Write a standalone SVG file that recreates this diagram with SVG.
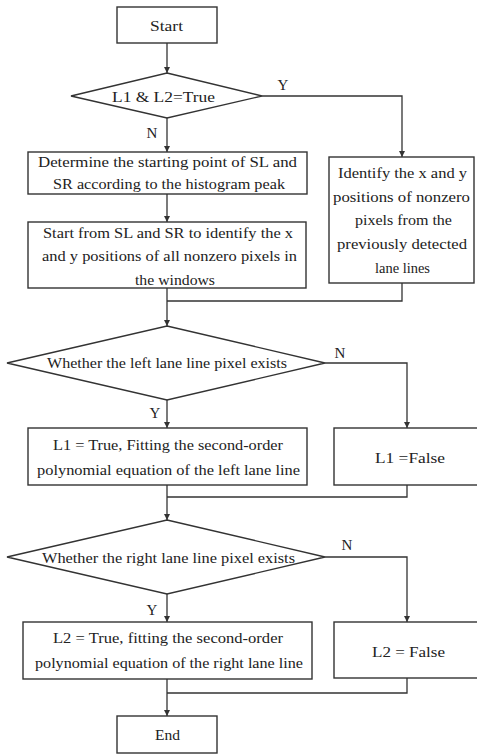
<svg xmlns="http://www.w3.org/2000/svg" width="477" height="755" viewBox="0 0 477 755">
<style>
.box{fill:#fff;stroke:#333;stroke-width:1.4}
.ln{fill:none;stroke:#333;stroke-width:1.3}
text{font-family:"Liberation Serif","Times New Roman",serif;font-size:15px;fill:#222;text-anchor:middle}
.lbl{font-size:15px}
</style>
<defs>
<marker id="ah" viewBox="0 0 10 10" refX="10" refY="5" markerWidth="6" markerHeight="7" orient="auto" markerUnits="userSpaceOnUse">
<path d="M0,0 L10,5 L0,10 z" fill="#333"/>
</marker>
</defs>
<rect width="477" height="755" fill="#fff"/>
<g id="connectors">
<path class="ln" d="M167,43 V73" marker-end="url(#ah)"/>
<path class="ln" d="M167,118 V152" marker-end="url(#ah)"/>
<path class="ln" d="M262,96 H402 V157" marker-end="url(#ah)"/>
<path class="ln" d="M167,194 V222" marker-end="url(#ah)"/>
<path class="ln" d="M167,288 V326" marker-end="url(#ah)"/>
<path class="ln" d="M402,283 V301 H167"/>
<path class="ln" d="M167,400 V428" marker-end="url(#ah)"/>
<path class="ln" d="M325,363 H407 V428" marker-end="url(#ah)"/>
<path class="ln" d="M167,485 V520" marker-end="url(#ah)"/>
<path class="ln" d="M407,485 V497 H167"/>
<path class="ln" d="M167,594 V622" marker-end="url(#ah)"/>
<path class="ln" d="M325,557 H407 V622" marker-end="url(#ah)"/>
<path class="ln" d="M167,679 V716" marker-end="url(#ah)"/>
<path class="ln" d="M407,678 V693 H167"/>
<text class="lbl" x="283" y="90">Y</text>
<text class="lbl" x="152" y="138">N</text>
<text class="lbl" x="340" y="358">N</text>
<text class="lbl" x="155" y="418">Y</text>
<text class="lbl" x="347" y="550">N</text>
<text class="lbl" x="152" y="615">Y</text>
</g>
<g id="start">
<rect class="box" x="117" y="7" width="100" height="36"/>
<text x="166.5" y="31" textLength="33" lengthAdjust="spacingAndGlyphs">Start</text>
</g>
<g id="d1">
<polygon class="box" points="167,73 262,96 167,118 71,96"/>
<text x="163.5" y="102" textLength="103" lengthAdjust="spacingAndGlyphs">L1 &amp; L2=True</text>
</g>
<g id="histogram">
<rect class="box" x="28" y="152" width="279" height="42"/>
<text x="167.5" y="167" textLength="259" lengthAdjust="spacingAndGlyphs">Determine the starting point of  SL and</text>
<text x="169" y="189" textLength="232" lengthAdjust="spacingAndGlyphs">SR according to the histogram peak</text>
</g>
<g id="previous">
<rect class="box" x="329" y="157" width="145" height="126"/>
<text x="402.5" y="178" textLength="129" lengthAdjust="spacingAndGlyphs">Identify the x and y</text>
<text x="401.5" y="202" textLength="137" lengthAdjust="spacingAndGlyphs">positions of nonzero</text>
<text x="403.5" y="225" textLength="97" lengthAdjust="spacingAndGlyphs">pixels from the</text>
<text x="402" y="249" textLength="130" lengthAdjust="spacingAndGlyphs">previously detected</text>
<text x="402.5" y="273" textLength="55" lengthAdjust="spacingAndGlyphs">lane lines</text>
</g>
<g id="window">
<rect class="box" x="28" y="222" width="278" height="66"/>
<text x="168" y="238" textLength="250" lengthAdjust="spacingAndGlyphs">Start from SL and SR to identify the x</text>
<text x="169.5" y="261" textLength="255" lengthAdjust="spacingAndGlyphs">and y positions  of all nonzero pixels in</text>
<text x="175" y="285" textLength="80" lengthAdjust="spacingAndGlyphs">the windows</text>
</g>
<g id="d2">
<polygon class="box" points="167,326 325,363 167,400 7,363"/>
<text x="167" y="368" textLength="240" lengthAdjust="spacingAndGlyphs">Whether the left lane line pixel exists</text>
</g>
<g id="l1true">
<rect class="box" x="28" y="428" width="279" height="57"/>
<text x="168" y="450" textLength="230" lengthAdjust="spacingAndGlyphs">L1 = True, Fitting the second-order</text>
<text x="168.5" y="475" textLength="263" lengthAdjust="spacingAndGlyphs">polynomial equation of the left lane line</text>
</g>
<g id="l1false">
<rect class="box" x="334" y="428" width="145" height="57"/>
<text x="410" y="463" textLength="70" lengthAdjust="spacingAndGlyphs">L1 =False</text>
</g>
<g id="d3">
<polygon class="box" points="167,520 325,557 167,594 7,557"/>
<text x="168.5" y="563" textLength="253" lengthAdjust="spacingAndGlyphs">Whether the right lane line pixel exists</text>
</g>
<g id="l2true">
<rect class="box" x="23" y="622" width="289" height="57"/>
<text x="168" y="643" textLength="230" lengthAdjust="spacingAndGlyphs">L2 = True, fitting the second-order</text>
<text x="169" y="668" textLength="268" lengthAdjust="spacingAndGlyphs">polynomial equation of the right lane line</text>
</g>
<g id="l2false">
<rect class="box" x="334" y="622" width="145" height="56"/>
<text x="408.5" y="657" textLength="73" lengthAdjust="spacingAndGlyphs">L2 = False</text>
</g>
<g id="end">
<rect class="box" x="117" y="716" width="100" height="37"/>
<text x="167.5" y="740" textLength="25" lengthAdjust="spacingAndGlyphs">End</text>
</g>
</svg>
